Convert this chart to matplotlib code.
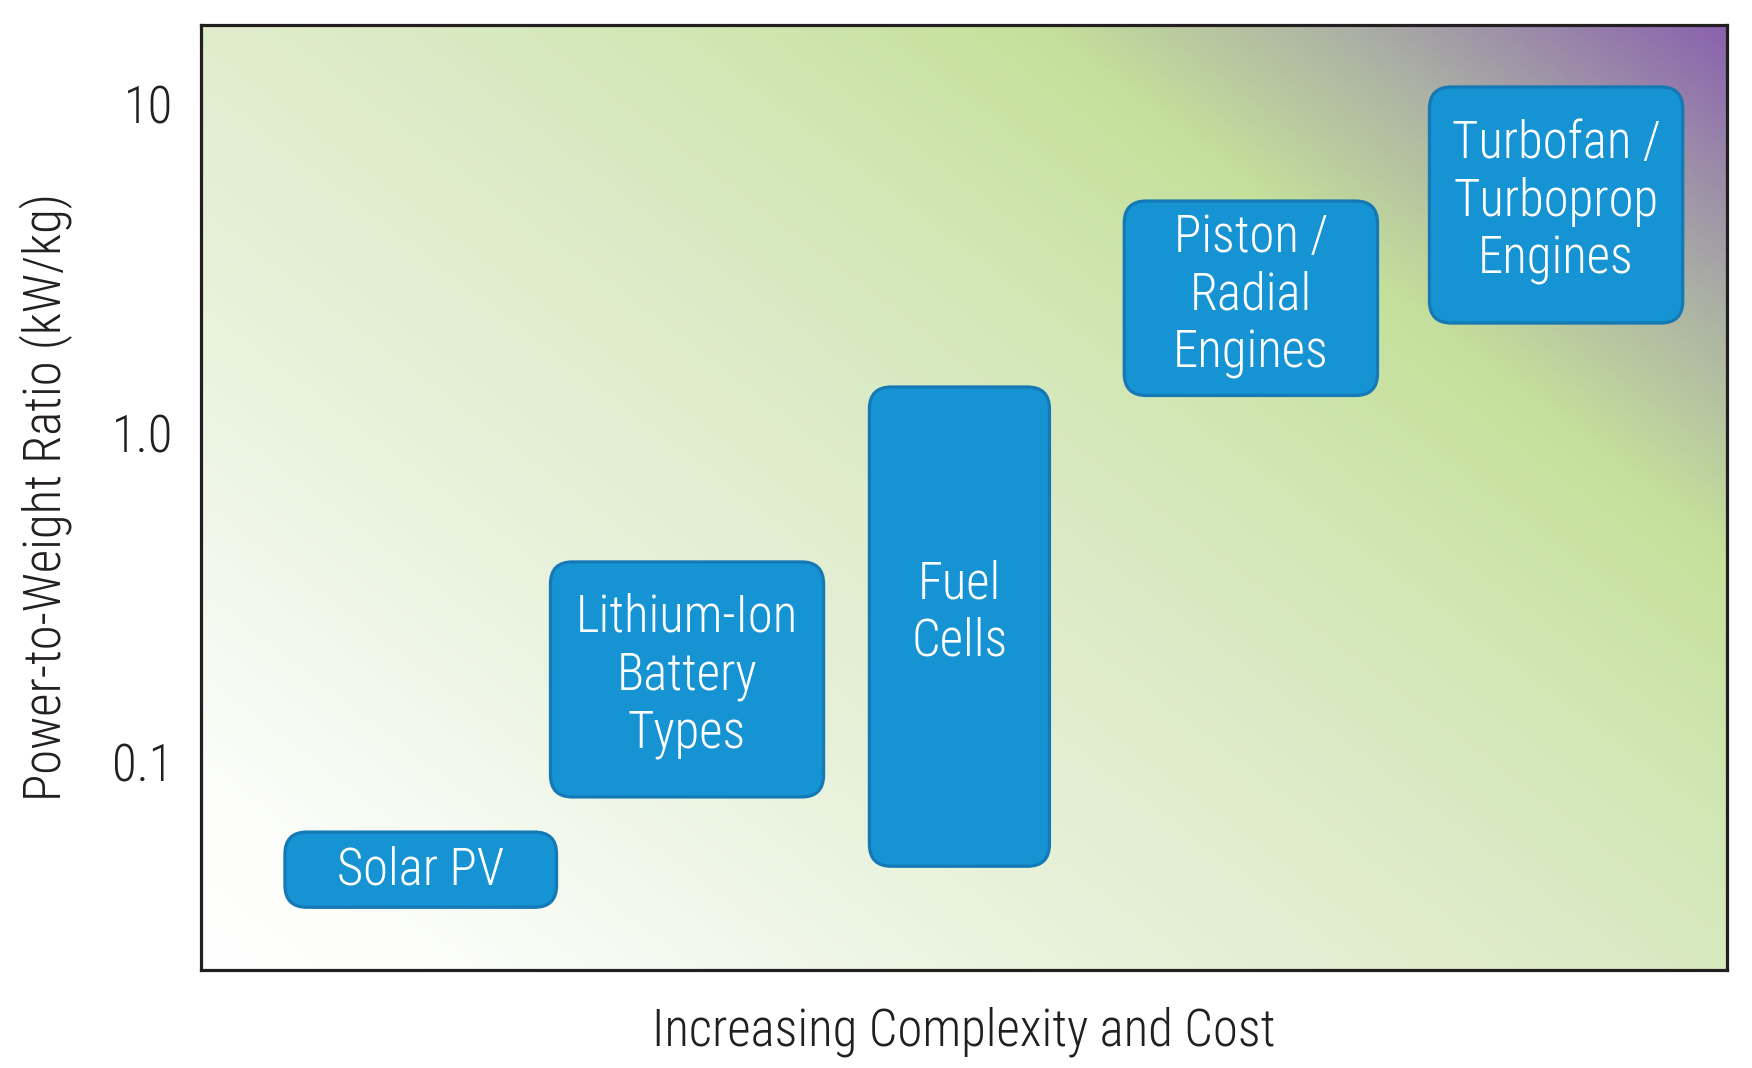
import numpy as np
import matplotlib.pyplot as plt
from matplotlib.patches import FancyBboxPatch
from matplotlib.colors import LinearSegmentedColormap

plt.rcParams['font.family'] = ['Roboto Condensed', 'Archivo Narrow', 'IBM Plex Sans Condensed', 'DejaVu Sans']
plt.rcParams['font.weight'] = 'light'
plt.rcParams['axes.labelweight'] = 'light'

# power-to-weight ranges (kW/kg), placed along an arbitrary complexity/cost scale (0-100)
labels = ["Solar PV", "Lithium-Ion\nBattery\nTypes", "Fuel\nCells",
          "Piston /\nRadial\nEngines", "Turbofan /\nTurboprop\nEngines"]
x_lo = [5.5, 22.9, 43.8, 60.5, 80.5]
x_hi = [23.3, 40.8, 55.6, 77.1, 97.1]
p_lo = [0.036, 0.078, 0.048, 1.30, 2.16]
p_hi = [0.061, 0.405, 1.38, 5.08, 11.3]
label_y = [0.0467, 0.182, 0.283, 2.61, 5.05]

yticks = [0.1, 1.0, 10]
ytick_labels = ["0.1", "1.0", "10"]

text_col = '#231f20'
box_fill = '#1693d3'
box_edge = '#1479b4'
fs = 36.5

fig = plt.figure(figsize=(17.52, 10.68), dpi=100)
pos = [201 / 1752, 1 - 970 / 1068, 1526 / 1752, 945.5 / 1068]

# background gradient: white (bottom-left) -> green -> grey -> purple (top-right)
bg_cmap = LinearSegmentedColormap.from_list('bg', [
    (0.00, '#ffffff'), (0.08, '#fdfefb'), (0.30, '#e9f3de'), (0.50, '#dcebc7'),
    (0.62, '#d1e7b4'), (0.75, '#c5e09b'), (0.86, '#acb2a4'), (1.00, '#8a62ae')])
W, H = 1526.0, 945.0
U, V = np.meshgrid(np.linspace(0, 1, 500), np.linspace(0, 1, 320))
t = (U * W + 1.32 * V * H) / (W + 1.32 * H)
bg = fig.add_axes(pos, zorder=0)
bg.imshow(t, cmap=bg_cmap, origin='lower', extent=[0, 1, 0, 1], aspect='auto',
          interpolation='bilinear', vmin=0, vmax=1)
bg.axis('off')

ax = fig.add_axes(pos, zorder=1)
ax.patch.set_alpha(0)
ax.set_yscale('log')
ax.set_xlim(0, 100)
ax.set_ylim(0.0232, 17.5)
ax.set_xticks([])
ax.set_yticks(yticks)
ax.set_yticklabels(ytick_labels)
ax.minorticks_off()
ax.tick_params(axis='y', length=0, labelsize=fs, pad=20, labelcolor=text_col)
for s in ax.spines.values():
    s.set_linewidth(2.3)
    s.set_color(text_col)

ax.set_ylabel("Power-to-Weight Ratio (kW/kg)", fontsize=fs, color=text_col, labelpad=28)
ax.set_xlabel("Increasing Complexity and Cost", fontsize=fs, color=text_col, labelpad=26)

# rounded boxes, built in axes fraction from the data corners
to_axes = ax.transData + ax.transAxes.inverted()
r_px = 22
for lab, xl, xh, pl, ph, ly in zip(labels, x_lo, x_hi, p_lo, p_hi, label_y):
    (x0, y0), (x1, y1) = to_axes.transform([(xl, pl), (xh, ph)])
    box = FancyBboxPatch((x0, y0), x1 - x0, y1 - y0,
                         boxstyle=f"round,pad=0,rounding_size={r_px / W}",
                         mutation_aspect=W / H, transform=ax.transAxes,
                         facecolor=box_fill, edgecolor=box_edge, linewidth=2.3, zorder=3)
    ax.add_patch(box)
    ax.text((xl + xh) / 2, ly, lab, ha='center', va='center', color='white',
            fontsize=fs, linespacing=1.2, zorder=4)

fig.savefig('out.png', dpi=100)
